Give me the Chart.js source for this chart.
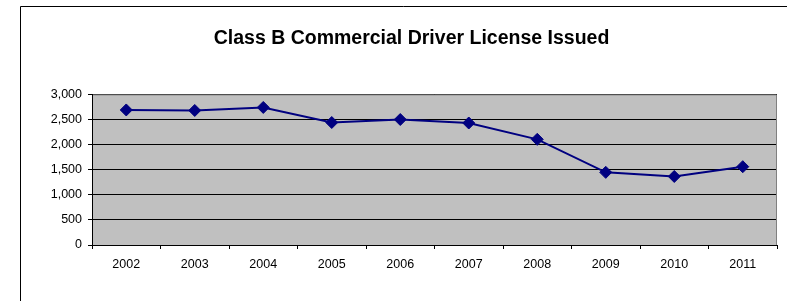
<!DOCTYPE html>
<html>
<head>
  <meta charset="UTF-8">
  <title>Class B Commercial Driver License Issued</title>
  <script src="https://cdn.jsdelivr.net/npm/chart.js"></script>
  <style>
    body { margin: 0; background: #fff; }
    #wrap { width: 787px; height: 301px; position: relative; }
  </style>
</head>
<body>
  <div id="wrap"><canvas id="cdlChart"></canvas></div>
  <script>
    // data
    var years = ['2002', '2003', '2004', '2005', '2006', '2007', '2008', '2009', '2010', '2011'];
    var licensesIssued = [2690, 2680, 2740, 2440, 2500, 2430, 2105, 1447, 1365, 1560];
    var yTicks = [0, 500, 1000, 1500, 2000, 2500, 3000];

    var fontFamily = 'Arial, "Liberation Sans", sans-serif';

    // grey plot background, grey top/right frame, outer box lines
    var excelLook = {
      id: 'excelLook',
      beforeDraw: function(chart) {
        var ctx = chart.ctx, a = chart.chartArea;
        ctx.save();
        ctx.fillStyle = '#C0C0C0';
        ctx.fillRect(a.left, a.top, a.right - a.left, a.bottom - a.top);
        ctx.strokeStyle = '#000';
        ctx.lineWidth = 1;
        ctx.beginPath();
        ctx.moveTo(20.5, 301);
        ctx.lineTo(20.5, 6.5);
        ctx.lineTo(787, 6.5);
        ctx.stroke();
        ctx.restore();
      },
      beforeDatasetsDraw: function(chart) {
        var ctx = chart.ctx, a = chart.chartArea;
        ctx.save();
        ctx.strokeStyle = '#808080';
        ctx.lineWidth = 1;
        ctx.beginPath();
        ctx.moveTo(a.left + 1, a.top + 0.5);
        ctx.lineTo(a.right - 0.5, a.top + 0.5);
        ctx.lineTo(a.right - 0.5, a.bottom);
        ctx.stroke();
        ctx.restore();
      }
    };

    var ctx = document.getElementById('cdlChart').getContext('2d');
    new Chart(ctx, {
      type: 'line',
      data: {
        labels: years,
        datasets: [{
          label: 'Licenses issued',
          data: licensesIssued,
          borderColor: '#000080',
          backgroundColor: '#000080',
          borderWidth: 2,
          tension: 0,
          pointStyle: 'rectRot',
          pointRadius: 6,
          pointHoverRadius: 6,
          pointBorderWidth: 1
        }]
      },
      options: {
        responsive: true,
        maintainAspectRatio: false,
        animation: false,
        layout: { padding: { left: 46, right: 10, top: 0, bottom: 0 } },
        plugins: {
          legend: { display: false },
          tooltip: { enabled: false },
          title: {
            display: true,
            text: 'Class B Commercial Driver License Issued',
            color: '#000',
            font: { family: fontFamily, size: 19.5, weight: 'bold', lineHeight: 1.2 },
            padding: { top: 27, bottom: 44 }
          }
        },
        scales: {
          x: {
            offset: true,
            grid: {
              offset: true,
              drawOnChartArea: false,
              drawTicks: true,
              tickLength: 4,
              color: '#000'
            },
            border: { color: '#000', width: 1 },
            ticks: {
              color: '#000',
              padding: 8,
              maxRotation: 0,
              font: { family: fontFamily, size: 12.5 }
            },
            afterFit: function(scale) { scale.height = 56; }
          },
          y: {
            min: 0,
            max: 3000,
            afterBuildTicks: function(scale) {
              scale.ticks = yTicks.map(function(v) { return { value: v }; });
            },
            grid: { color: '#000', tickLength: 4 },
            border: { color: '#000', width: 1 },
            ticks: {
              color: '#000',
              padding: 6,
              font: { family: fontFamily, size: 12.5 },
              callback: function(v) { return Number(v).toLocaleString('en-US'); }
            },
            afterFit: function(scale) { scale.width = 46; }
          }
        }
      },
      plugins: [excelLook]
    });
  </script>
</body>
</html>
